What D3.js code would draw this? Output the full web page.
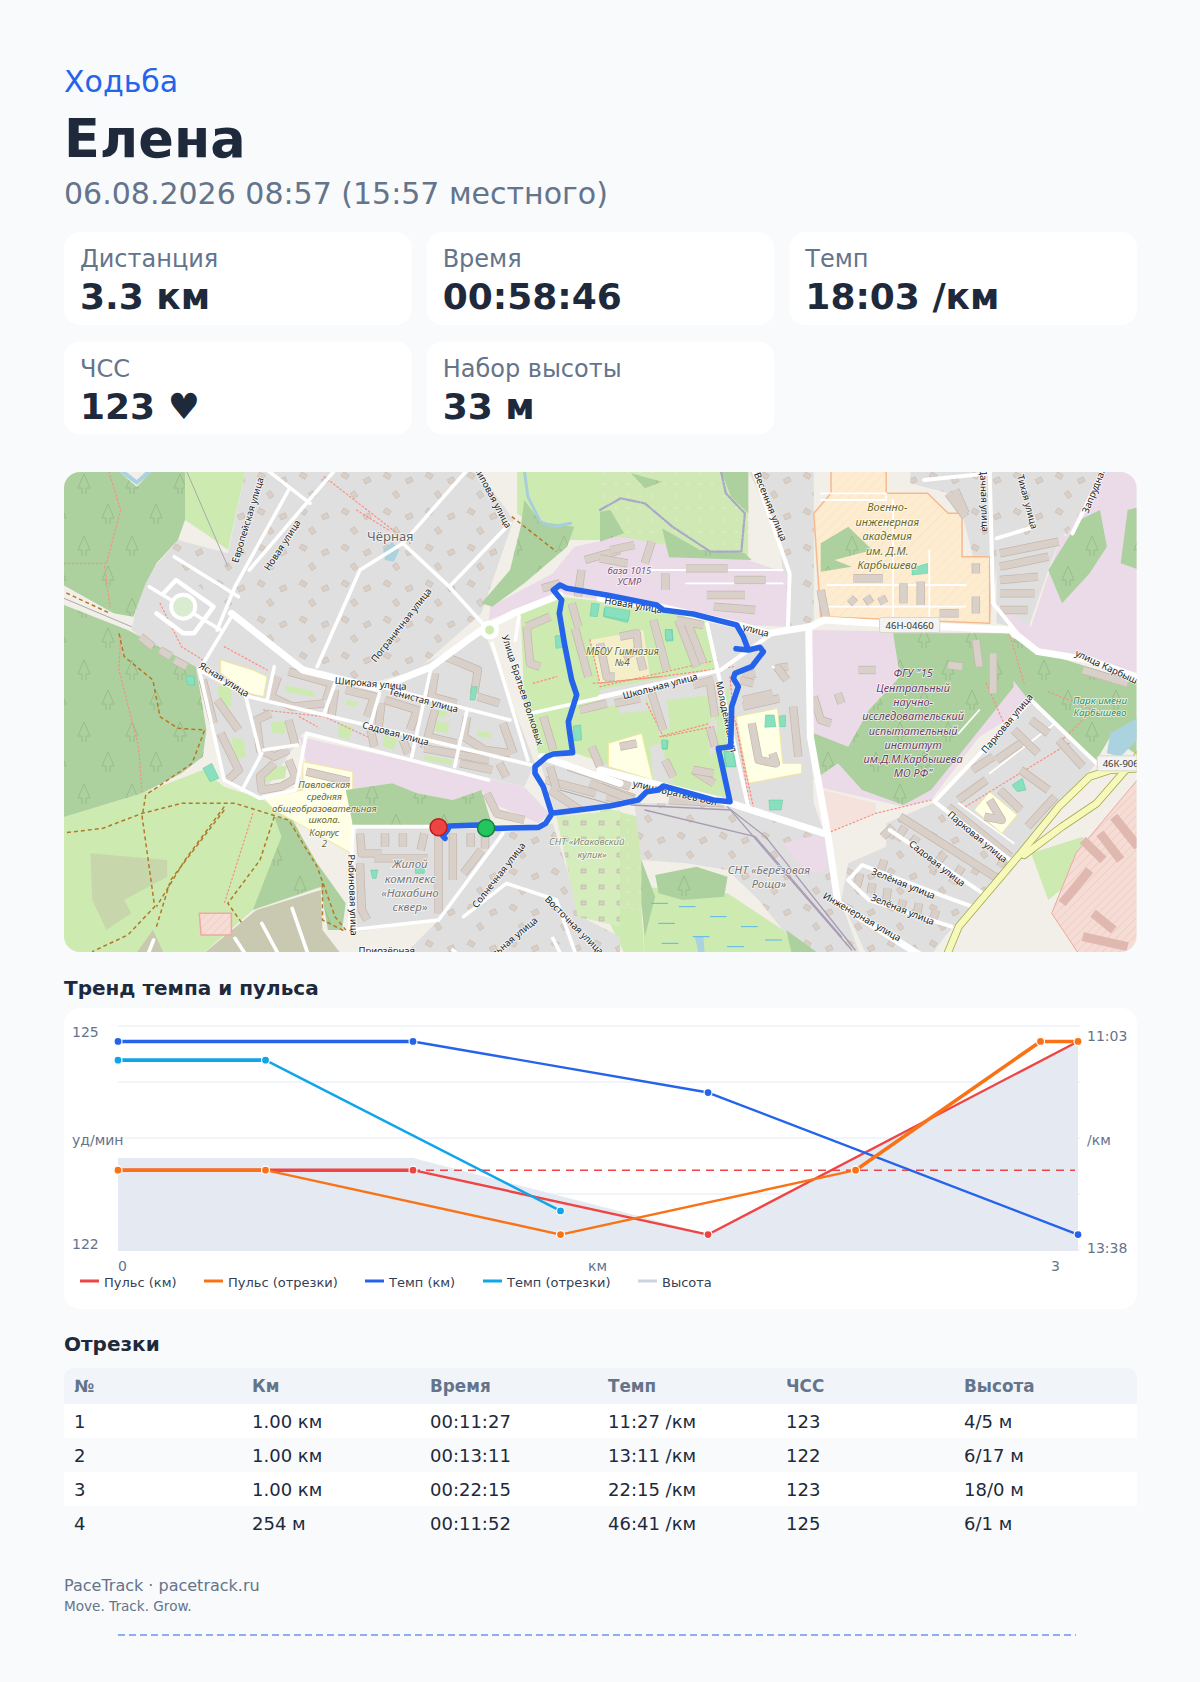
<!DOCTYPE html>
<html>
<head>
<meta charset="utf-8">
<title>Ходьба</title>
<script src="https://cdn.jsdelivr.net/npm/d3@7"></script>
<style>
  html, body { margin: 0; background: #f8fafc; }
  text { font-family: "DejaVu Sans", sans-serif; }
</style>
</head>
<body>
<div id="chart"></div>
<script>
const pageWidth = 1200, pageHeight = 1682;
const dark = "#1e293b", muted = "#64748b", blue = "#2563eb";

// summary
const statLabels = ["Дистанция", "Время", "Темп", "ЧСС", "Набор высоты"];
const statValues = ["3.3 км", "00:58:46", "18:03 /км", "123 ♥", "33 м"];

// trend chart
const kmMarks = [0, 1, 2, 3.254];
const hrByKm = [123, 123, 122, 125];
const paceByKm = [663, 663, 704, 818];
const splitMarks = [0, 0.5, 1.5, 2.5, 3.127, 3.254];
const hrBySplit = [123, 123, 122, 123, 125, 125];
const paceSplitMarks = [0, 0.5, 1.5];
const paceBySplit = [678, 678, 799];
const elevMarks = [0, 1, 2, 3.254];
const elevation = [167.6, 167.6, 160, 179.1];
const hrAverage = 123;
const legendNames = ["Пульс (км)", "Пульс (отрезки)", "Темп (км)", "Темп (отрезки)", "Высота"];
const legendColors = ["#ef4444", "#f97316", "#2563eb", "#0ea5e9", "#cbd5e1"];

// splits table
const tableHead = ["№", "Км", "Время", "Темп", "ЧСС", "Высота"];
const tableRows = [
  ["1", "1.00 км", "00:11:27", "11:27 /км", "123", "4/5 м"],
  ["2", "1.00 км", "00:13:11", "13:11 /км", "122", "6/17 м"],
  ["3", "1.00 км", "00:22:15", "22:15 /км", "123", "18/0 м"],
  ["4", "254 м", "00:11:52", "46:41 /км", "125", "6/1 м"]
];

// map, in three sheets: west, east, and the detailed middle one around the route
const westForest = [
  [[0,0],[160,0],[215,50],[260,0],[350,0],[350,150],[330,210],[270,280],[240,340],[205,440],[150,430],[0,340]],
  [[0,400],[190,480],[380,590],[395,680],[410,780],[400,860],[340,910],[230,970],[0,1045]],
  [[600,1040],[650,1050],[720,1180],[800,1300],[790,1380],[750,1380],[730,1250],[540,1320],[620,1100]],
  [[800,960],[930,940],[1000,970],[1100,990],[1180,960],[1210,1065],[820,1065]],
  [[1300,90],[1345,155],[1440,170],[1420,230],[1300,340],[1210,410],[1180,400],[1260,300],[1290,170]]
];
const westGrass = [
  [[0,1045],[230,970],[400,900],[460,950],[560,985],[650,1040],[720,1200],[735,1250],[540,1320],[380,1470],[0,1470]],
  [[1280,0],[1568,0],[1568,210],[1430,210],[1400,240],[1280,130]],
  [[350,0],[520,0],[470,240],[420,200],[350,150]],
  [[1290,430],[1400,380],[1568,400],[1568,850],[1340,850],[1300,700]]
];
const westScrub = [[[85,1150],[300,1170],[300,1220],[180,1290],[200,1330],[130,1380],[90,1290]]];
const westHouses = [
  [[520,0],[1170,0],[1270,150],[1180,430],[1000,600],[870,640],[700,600],[480,430],[350,340],[290,260],[330,210],[470,250]],
  [[1240,1090],[1380,1060],[1460,1340],[1568,1400],[1568,1470],[950,1470],[1060,1350]]
];
const westBlocks = [
  [[230,330],[290,260],[480,430],[700,600],[890,650],[1040,570],[1190,490],[1330,880],[1300,950],[680,790],[560,985],[460,930],[390,640],[200,480]],
  [[830,1070],[1230,1070],[1240,1090],[1060,1350],[830,1385]],
  [[1340,860],[1568,930],[1568,1010],[1390,1040]]
];
const westPurple = [
  [[670,800],[1300,950],[1370,1030],[1340,1060],[1210,1000],[1180,960],[1100,990],[1000,970],[930,940],[800,960],[690,880]],
  [[1440,230],[1568,200],[1568,400],[1400,370],[1200,450],[1205,410],[1380,310]]
];
const westSchool = [
  [[680,875],[820,905],[820,1060],[815,1150],[600,1020],[570,985],[680,960]],
  [[450,570],[540,600],[580,620],[570,680],[530,670],[450,610]]
];
const westKhaki = [
  [[380,1470],[550,1320],[730,1260],[735,1380],[800,1470]],
  [[200,1470],[260,1380],[300,1470]]
];
const westAllot = [[[1390,1040],[1568,1020],[1568,1370],[1450,1340]]];
const westPink = [[[390,1330],[480,1330],[480,1395],[395,1395]]];
const westPitch = [
  [[400,895],[425,880],[445,925],[420,935]],
  [[352,618],[375,618],[378,645],[358,645]],
  [[1152,650],[1168,650],[1162,690],[1148,690]],
  [[870,1200],[890,1200],[885,1225],[875,1225]],
  [[995,1195],[1020,1195],[1020,1210],[995,1210]]
];
const westYards = [
  [[440,650],[480,640],[480,710],[450,710]], [[630,645],[715,665],[710,680],[630,665]], [[800,690],[835,695],[830,710],[800,705]],
  [[480,800],[515,810],[520,860],[490,870]], [[590,755],[630,755],[630,790],[595,790]], [[780,760],[820,770],[810,810],[780,800]],
  [[905,795],[945,805],[935,840],[905,830]], [[1050,720],[1085,725],[1080,740],[1050,740]], [[1040,750],[1090,760],[1085,790],[1040,780]],
  [[1170,780],[1210,790],[1205,805],[1170,800]], [[570,900],[635,885],[630,925],[570,935]], [[1020,855],[1100,870],[1095,885],[1020,870]]
];
const westBuildings = [
  [[400,630],[430,760]], [[450,790],[500,900],[470,930]], [[440,690],[500,780]], [[590,730],[550,750],[560,840],[600,860],[640,840]],
  [[640,750],[660,830]], [[600,880],[560,920],[565,960],[620,950],[660,925],[640,870]],
  [[610,620],[590,680],[650,710],[740,700]], [[640,605],[760,640],[745,690]], [[770,660],[760,740]], [[800,660],[880,680],[860,740]],
  [[900,700],[890,790]], [[910,690],[1000,720],[980,780]], [[1050,610],[1040,680],[1110,700]], [[1080,560],[1170,600],[1160,670]],
  [[1170,680],[1230,700]], [[1050,720],[1030,800],[1110,820]], [[1140,740],[1130,800],[1190,840],[1260,850]], [[1240,760],[1270,850]],
  [[1020,835],[1200,870]], [[1120,880],[1210,900]], [[1230,880],[1250,920]], [[870,780],[880,830]], [[960,810],[975,850]],
  [[690,905],[810,935]], [[840,1090],[845,1150],[900,1150]], [[840,1180],[845,1320],[860,1350]], [[910,1090],[910,1130]],
  [[960,1090],[960,1130]], [[1020,1090],[1010,1140]], [[880,1165],[1030,1165]], [[1060,1090],[1060,1330]], [[1100,1090],[1100,1230]],
  [[1150,1090],[1150,1130]], [[1190,1090],[1190,1135]], [[1180,1140],[1130,1210]], [[1195,970],[1225,1035]], [[1220,1030],[1300,1050]],
  [[1360,930],[1500,970]], [[1530,980],[1568,990]], [[1470,270],[1568,240]], [[1460,300],[1450,380]], [[1350,355],[1400,340]],
  [[225,500],[260,530]], [[280,540],[310,560]], [[320,570],[355,590]]
];
const westRoads = [
  [[1400,375],[1270,430],[1180,480],[1040,590],[890,655],[680,600],[480,430]],
  [[1350,860],[1568,940]],
  [[530,680],[1320,885]], [[900,650],[1260,750]], [[480,440],[390,600],[460,930],[560,985],[660,960],[690,790],[1200,930]],
  [[390,600],[530,680]], [[1200,480],[1090,350],[960,220],[840,300],[720,590]], [[1090,350],[1260,160]],
  [[960,220],[1140,0]], [[640,60],[490,350],[440,480]], [[580,0],[700,100]], [[770,0],[530,300]], [[320,260],[500,380]],
  [[1210,520],[1310,870]], [[1285,440],[1275,510]], [[1320,730],[1568,670]], [[820,1070],[1230,1070]],
  [[820,1070],[810,1380],[1060,1350],[1240,1090]], [[1130,1340],[1250,1240],[1390,1290],[1450,1470]], [[250,350],[450,480]],
  [[600,590],[580,690]], [[770,640],[740,730]], [[895,670],[870,760]], [[1040,590],[985,860]], [[1140,720],[1105,890]],
  [[520,680],[560,850]], [[565,850],[510,960]], [[570,840],[665,825]], [[1100,1440],[1130,1470]], [[650,1315],[700,1470]],
  [[565,1360],[620,1470]], [[490,1405],[530,1470]], [[262,1410],[240,1470]], [[1380,1405],[1410,1470]]
];
const westRing = [[[290,370],[325,330],[430,410],[375,490],[345,490],[270,430]]];
const westTrack = [
  [[0,1090],[120,1075],[230,1030],[340,1000],[490,1000],[640,1050],[720,1190],[770,1340],[800,1380]],
  [[165,490],[180,560],[260,630],[280,740],[330,775],[405,780],[370,880],[240,975],[230,1040],[265,1310],[190,1395],[90,1445]],
  [[460,1010],[350,1170],[270,1310]], [[460,1020],[310,1230],[270,1370]], [[600,1040],[560,1170],[470,1300],[510,1360]],
  [[735,1240],[735,1350],[800,1385]], [[1265,140],[1390,245]], [[0,360],[140,430]]
];
const westFootway = [
  [[0,280],[130,280],[170,120],[135,0]], [[125,290],[140,410]], [[170,500],[165,600],[220,830],[230,970]],
  [[280,400],[340,530],[400,570]], [[460,530],[580,600]], [[740,20],[980,220]], [[570,720],[740,740],[860,800]],
  [[540,1030],[460,1300]], [[670,740],[720,770]], [[1010,830],[1200,880]], [[830,120],[920,180]]
];
const westRail = [[[0,380],[200,470]], [[1400,960],[1568,1010]], [[355,5],[470,290]]];
const westWater = [[[905,240],[930,215],[950,240],[935,275],[910,270]], [[165,5],[215,45],[260,5],[240,5],[215,30],[185,5]]];
const westRiver = [[1300,0],[1310,80],[1345,155],[1380,170],[1430,160]];

const eastForest = [
  [[0,125],[30,120],[70,190],[0,215]],
  [[180,175],[290,240],[420,250],[440,270],[200,262]],
  [[350,0],[430,0],[430,130],[380,80]],
  [[90,10],[180,35],[130,55]],
  [[850,490],[1190,490],[1200,650],[1100,780],[960,960],[880,1005],[760,960],[690,880],[620,930],[620,790],[720,830],[780,720],[870,620]],
  [[1190,500],[1290,550],[1566,640],[1566,860],[1480,800],[1440,870],[1250,700],[1190,620]],
  [[640,220],[720,170],[790,240],[680,270],[730,290],[640,305]],
  [[160,1215],[280,1190],[370,1220],[360,1280],[240,1290],[170,1270]],
  [[120,1170],[160,1280],[130,1400],[120,1300]], [[540,1380],[660,1470],[560,1470]],
  [[1390,150],[1450,120],[1470,230],[1420,310],[1340,400],[1300,300]], [[1530,120],[1566,110],[1566,300],[1510,280]]
];
const eastGarden = [[[0,0],[430,0],[430,260],[200,262],[0,215]], [[0,1010],[110,1040],[130,1250],[120,1320],[0,1300]]];
const eastGrass = [
  [[120,1250],[370,1270],[560,1400],[600,1470],[130,1470]],
  [[1250,1150],[1400,1100],[1430,1180],[1300,1290]],
  [[0,1300],[120,1320],[130,1470],[80,1470]]
];
const eastHouses = [
  [[430,0],[620,0],[620,460],[545,470],[520,200]],
  [[900,0],[1450,0],[1370,190],[1160,220],[1130,460],[1050,130],[1010,70],[900,40]],
  [[100,1000],[380,1000],[650,1090],[700,1300],[760,1470],[600,1470],[460,1290],[370,1200],[250,1180],[120,1170]],
  [[830,1060],[965,1000],[1190,1170],[1000,1400],[950,1470],[780,1470],[700,1290],[720,1180],[830,1130]]
];
const eastBlocks = [
  [[1250,700],[1440,880],[1190,1170],[965,1000]],
  [[1150,220],[1340,190],[1300,300],[1240,480],[1150,460]],
  [[0,400],[170,415],[400,470],[500,490],[600,480],[620,1000],[650,1090],[380,1000],[0,900]]
];
const eastPurple = [
  [[0,200],[60,200],[430,270],[540,310],[545,470],[400,465],[0,370]],
  [[615,480],[1190,490],[1200,600],[1260,700],[1100,800],[960,990],[880,1010],[630,950],[615,800]],
  [[1350,200],[1460,5],[1566,5],[1566,610],[1280,545],[1200,480],[1150,400],[1250,470],[1340,190]],
  [[530,1120],[650,1090],[660,1200],[600,1210]]
];
const eastMilitary = [[[620,130],[670,70],[670,0],[830,0],[830,70],[950,70],[1010,130],[1050,130],[1050,260],[1130,260],[1130,460],[640,440]]];
const eastSchool = [
  [[395,740],[515,715],[530,880],[585,880],[585,910],[430,940]],
  [[20,870],[130,795],[150,930],[20,880]],
  [[1085,1020],[1130,965],[1210,1035],[1165,1090]]
];
const eastIndustrial = [[[1566,920],[1380,1150],[1310,1330],[1400,1470],[1566,1470]]];
const eastLand = [[[630,955],[800,1000],[800,1030],[665,1085]]];
const eastPitch = [
  [[12,415],[85,430],[80,458],[10,440]], [[190,480],[210,478],[212,512],[192,514]], [[905,295],[950,280],[950,310],[905,315]],
  [[480,735],[505,735],[510,770],[478,772]], [[520,738],[538,736],[538,770],[522,770]], [[360,845],[392,845],[392,890],[362,890]],
  [[490,990],[530,990],[525,1020],[492,1020]], [[1195,945],[1225,925],[1235,960],[1210,965]], [[180,812],[198,812],[195,838],[182,838]]
];
const eastBuildings = [
  [[30,240],[100,225]], [[150,215],[130,280]], [[0,265],[80,280]], [[190,310],[190,360]], [[250,295],[370,295]], [[310,375],[420,375]],
  [[390,330],[480,330]], [[450,420],[330,410]], [[640,360],[655,440]], [[725,385],[740,400]], [[772,380],[785,400]],
  [[815,380],[825,400]], [[880,340],[880,400]], [[930,335],[930,405]], [[985,430],[1040,430]], [[1090,280],[1090,310]],
  [[1090,380],[1090,430]], [[735,325],[820,325]],
  [[440,760],[460,870],[510,880],[500,850]], [[270,900],[330,940]],
  [[415,620],[450,610]], [[510,595],[545,590]], [[415,690],[500,670]], [[415,710],[520,685]],
  [[560,710],[575,860]], [[0,950],[100,985]], [[200,990],[360,1000]], [[620,680],[640,750],[670,760]],
  [[690,670],[700,700]], [[750,600],[800,600]], [[1010,585],[1050,590]], [[1090,510],[1100,590]], [[1400,600],[1530,640]],
  [[1250,750],[1300,790]], [[1200,780],[1270,850]], [[1150,870],[1220,820]], [[1080,900],[1140,860]], [[1040,990],[1120,930]],
  [[1220,900],[1300,960]], [[1160,960],[1220,1020]], [[1330,810],[1400,890]], [[1240,1070],[1320,980]],
  [[1010,1010],[1190,1160]], [[870,1040],[1160,1230]], [[820,1100],[850,1070]], [[885,1070],[860,1110]], [[920,1100],[900,1130]],
  [[1000,1150],[960,1200]], [[1050,1190],[1020,1240]], [[825,1170],[815,1200]], [[755,1210],[745,1250]], [[790,1240],[785,1270]],
  [[835,1255],[830,1290]], [[880,1290],[870,1320]], [[925,1300],[920,1330]], [[975,1320],[965,1350]],
  [[1115,1040],[1165,1050],[1130,990]], [[1170,1170],[1160,1190]], [[1140,550],[1140,670]], [[1160,250],[1330,215]], [[1160,290],[1300,260]],
  [[1160,330],[1270,320]], [[1160,370],[1260,370]], [[1160,420],[1240,420]], [[1010,70],[1060,140]], [[1030,60],[1060,130]]
];
const eastIndustrialBuildings = [
  [[1400,1110],[1460,1170]], [[1450,1090],[1510,1170]], [[1490,1040],[1560,1130]], [[1340,1300],[1420,1200]], [[1430,1330],[1490,1380]], [[1400,1400],[1530,1430]]
];
const eastRoads = [
  [[0,385],[170,410],[400,465],[490,490],[610,470],[650,450],[800,460],[1190,480],[1270,545],[1420,570],[1566,625]],
  [[0,900],[380,1000],[650,1090]],
  [[605,470],[610,800],[660,1090],[690,1300],[950,1470]],
  [[0,680],[350,600],[500,490]], [[310,460],[430,1010]], [[445,0],[550,310],[545,470]], [[1130,0],[1140,400],[1210,490]],
  [[940,30],[1130,10]], [[1150,205],[1260,170]], [[1460,0],[1370,190]], [[1250,690],[970,995],[1190,1170]], [[1250,690],[1440,880]],
  [[840,1080],[1110,1270]], [[720,1230],[760,1185],[1000,1280],[1080,1310]], [[720,1230],[780,1290],[1020,1370]]
];
const eastServiceRoads = [
  [[640,70],[830,70],[830,90],[640,90]], [[660,345],[1060,345]], [[660,410],[1060,410]], [[850,90],[850,440]], [[955,240],[955,440]],
  [[150,300],[530,300]], [[250,340],[530,340]], [[500,590],[545,620]], [[1040,1000],[1200,1120]], [[1130,910],[1320,760]], [[1040,790],[1100,720]]
];
const eastTrunk = [[1000,1470],[1040,1370],[1220,1150],[1330,1010],[1420,920],[1480,900],[1566,895]];
const eastTrunk2 = [[1230,1155],[1340,1070],[1440,1000],[1566,850]];
const eastFootway = [
  [[670,1085],[800,1030],[960,990]], [[1190,500],[1230,640]], [[1300,665],[1430,720],[1330,820]], [[1060,1010],[1360,820]],
  [[395,760],[435,1010]], [[0,650],[340,570]], [[1120,640],[1180,780]]
];
const eastRail = [[[90,1005],[380,1020],[480,1100],[740,1440]], [[130,1020],[450,1100],[700,1400]], [[370,1010],[730,1440]]];
const eastRiver = [[0,120],[60,85],[130,100],[210,170],[320,245],[410,245],[420,130],[365,70],[350,0]];
const eastWater = [[[1566,740],[1480,790],[1470,850],[1510,860],[1566,800]], [[275,1400],[300,1400],[305,1470],[290,1470]]];
const eastWetlandDashes = [[150,1300],[230,1310],[320,1340],[410,1370],[480,1410],[170,1360],[270,1400],[370,1430],[180,1420],[300,1450]];

const midSchoolYard = [[[270,210],[430,180],[450,320],[300,340]]];
const midGreens = [
  [[190,90],[480,125],[620,145],[655,295],[240,370],[215,300]],
  [[75,120],[170,100],[190,230],[225,370],[100,390],[80,290]],
  [[230,430],[440,385],[480,480],[640,450],[690,340],[685,500],[680,680],[480,640],[215,545]],
  [[130,430],[205,410],[205,540],[160,545],[135,500]]
];
const midGrey = [
  [[345,385],[430,380],[450,420],[360,430]], [[450,380],[480,500],[500,470],[490,370]], [[560,335],[650,320],[640,380],[600,375],[500,395],[490,365]],
  [[450,530],[480,520],[520,640],[460,630]], [[620,460],[650,450],[650,540],[630,560]], [[700,300],[860,270],[870,400],[700,420]]
];
const midYard = [[[500,390],[630,375],[635,455],[510,475]]];
const midPitch = [[[275,100],[298,102],[292,140],[270,138]], [[315,110],[390,122],[385,152],[312,138]], [[495,178],[515,180],[518,210],[497,210]], [[165,198],[190,195],[192,232],[168,235]], [[220,468],[242,465],[245,510],[222,512]], [[485,510],[500,510],[502,535],[486,535]], [[672,545],[698,545],[708,590],[680,590]]];
const midBuildings = [
  [[215,100],[235,170]], [[225,175],[265,320]], [[300,220],[320,320],[345,320]], [[360,200],[410,190],[415,240],[370,260]], [[420,260],[430,300]],
  [[80,170],[90,280],[120,290]], [[80,170],[150,140]], [[460,150],[500,300]], [[535,150],[590,290]], [[560,150],[610,280]], [[530,150],[610,165]],
  [[455,370],[490,480]], [[345,400],[420,385]], [[580,345],[640,330]], [[630,340],[645,440]], [[630,475],[645,530]],
  [[240,420],[320,400]], [[130,440],[160,540]], [[275,530],[300,590]], [[495,570],[520,620]], [[580,600],[640,610]], [[360,530],[410,520]],
  [[205,590],[390,650]], [[150,590],[170,660]], [[270,640],[400,690]], [[150,660],[240,720]], [[830,290],[860,330]], [[720,330],[760,340]]
];
const midYellow = [[[325,520],[425,490],[458,630],[325,590]]];
const midFootway = [[[280,340],[480,320],[700,290]], [[270,210],[300,340],[480,320]], [[440,400],[490,500],[640,470]], [[100,340],[170,320]], [[480,500],[630,460]], [[690,320],[700,430],[760,710]]];

// route drawn through the map sheets
const routeStartLeg = [[1078,1105],[1072,1098],[1085,1080],[1090,1068],[1170,1065],[1220,1075],[1340,1072],[1360,1060],[1378,1030]];
const routeLoop = [[155,730],[130,650],[105,610],[105,590],[140,560],[160,552],[218,548],[208,480],[205,455],[230,375],[215,330],[195,230],[178,130],[185,90],[160,60],[180,45],[200,55],[320,75],[470,105],[490,120],[580,132],[650,150],[710,165],[730,200],[745,240],[708,236],[745,240],[780,232],[790,245],[755,290],[705,310],[700,325],[715,350],[695,410],[692,530],[655,535],[690,695],[640,690],[490,648],[475,660],[440,665],[415,690],[330,708],[155,730]];
const routeFinish = [1060, 1072];
const routeStart = [1193, 1074];

// map labels: text, x, y, rotation
const westStreets = [
  ["Европейская улица",525,150,-73],["Новая улица",622,225,-57],["Липовая улица",1212,80,62],["Пограничная улица",955,465,-52],
  ["Широкая улица",870,640,5],["Ясная улица",460,628,32],["Тенистая улица",1018,690,15],["Садовая улица",940,790,15],
  ["Улица Братьев Волковых",1296,660,72],["Рыбиновая улица",820,1275,88],["Солнечная улица",1228,1215,-52],["Восточная улица",1440,1365,45],
  ["Приозёрная",915,1442,0],["Школьная улица",1250,1420,-40]
];
const westSchoolName = [["Павловская",740,943],["средняя",740,978],["общеобразовательная",740,1014],["школа.",740,1049],["Корпус",740,1086],["2",740,1120]];
const westEstate = [["Жилой",980,1180],["комплекс",980,1224],["«Нахабино",980,1266],["сквер»",980,1310]];
const westGarden = [["СНТ «Исаковский",1475,1115],["кулик»",1490,1152]];
const eastStreets = [
  ["Весенняя улица",495,110,68],["Дачная улица",1115,90,88],["Тихая улица",1240,95,75],["Запрудная",1432,60,-68],
  ["улица",452,480,15],["улица Карбышева",1490,600,25],["Парковая улица",1180,760,-50],["Парковая улица",1095,1100,40],
  ["Садовая улица",978,1180,38],["Зелёная улица",880,1240,22],["Зелёная улица",878,1318,22],["Инженерная улица",760,1340,30]
];
const eastAcademy = [["Военно-",833,110],["инженерная",833,155],["академия",833,197],["им. Д.М.",833,240],["Карбышева",833,283]];
const eastInstitute = [["ФГУ \"15",908,607],["Центральный",908,652],["научно-",908,695],["исследовательский",908,737],["испытательный",908,780],["институт",908,823],["им.Д.М.Карбышева",908,866],["МО РФ\"",908,908]];
const eastBase = [["база 1015",85,300],["УСМР",85,335]];
const eastPark = [["Парк имени",1450,692],["Карбышево",1450,727]];
const eastGardenName = [["СНТ «Берёзовая",490,1197],["Роща»",490,1240]];
const midStreets = [["Новая улица",400,105,10],["Школьная улица",480,348,-15],["Молодёжная ул",680,440,78],["улица Братьев Вол",525,668,13]];
const midSchoolName = [["МБОУ Гимназия",367,242],["№4",367,277]];
const roadShields = [["46Н-04660",898,465],["46К-906",1510,880]];

const svg = d3.select("#chart").append("svg")
  .attr("width", pageWidth)
  .attr("height", pageHeight)
  .style("display", "block");

svg.append("rect").attr("width", pageWidth).attr("height", pageHeight).attr("fill", "#f8fafc");

const defs = svg.append("defs");

function addText(sel, str, x, y, size, color, weight) {
  return sel.append("text")
    .attr("x", x).attr("y", y)
    .attr("font-size", size)
    .attr("fill", color)
    .attr("font-weight", weight || "normal")
    .text(str);
}

// header
addText(svg, "Ходьба", 64, 92, 30, blue);
addText(svg, "Елена", 64, 157, 52.5, dark, "bold");
addText(svg, "06.08.2026 08:57 (15:57 местного)", 64, 204, 30, muted);

// stat cards
const cardX = d3.scaleBand().domain([0, 1, 2]).range([64, 1137]).paddingInner(15 / 362.67);
statLabels.forEach((label, i) => {
  const col = i % 3, row = Math.floor(i / 3);
  const top = 232 + row * 109.5;
  svg.append("rect")
    .attr("x", cardX(col)).attr("y", top)
    .attr("width", cardX.bandwidth()).attr("height", 93)
    .attr("rx", 16).attr("fill", "#fff");
  addText(svg, label, cardX(col) + 16, top + 35, 24, muted);
  addText(svg, statValues[i], cardX(col) + 16, top + 77, 36, dark, "bold");
});

// map
defs.append("clipPath").attr("id", "mapClip")
  .append("rect").attr("x", 64).attr("y", 472).attr("width", 1072.5).attr("height", 480).attr("rx", 16);

const housePattern = defs.append("pattern").attr("id", "houses").attr("patternUnits", "userSpaceOnUse").attr("width", 42).attr("height", 36);
housePattern.append("rect").attr("width", 42).attr("height", 36).attr("fill", "#e0dfdf");
[[6, 5, 30], [28, 10, -25], [15, 24, 55]].forEach(h => {
  housePattern.append("rect").attr("x", h[0]).attr("y", h[1]).attr("width", 6.5).attr("height", 5)
    .attr("fill", "#d9cfc6").attr("stroke", "#c4b6ab").attr("stroke-width", 0.5)
    .attr("transform", `rotate(${h[2]} ${h[0] + 3} ${h[1] + 2.5})`);
});
const treePattern = defs.append("pattern").attr("id", "trees").attr("patternUnits", "userSpaceOnUse").attr("width", 48).attr("height", 62);
treePattern.append("path").attr("d", "M12 8 L18 22 L14 22 L14 28 M12 8 L6 22 L10 22 L10 28 M36 40 L42 54 L38 54 L38 60 M36 40 L30 54 L34 54 L34 60")
  .attr("fill", "none").attr("stroke", "#8fb57f").attr("stroke-width", 0.7);
const hatchPattern = defs.append("pattern").attr("id", "hatch").attr("patternUnits", "userSpaceOnUse").attr("width", 7).attr("height", 7).attr("patternTransform", "rotate(-45)");
hatchPattern.append("rect").attr("width", 7).attr("height", 7).attr("fill", "#feecd0");
hatchPattern.append("line").attr("x1", 0).attr("x2", 7).attr("y1", 0).attr("y2", 0).attr("stroke", "#f5d3ac").attr("stroke-width", 0.6);
const redHatch = defs.append("pattern").attr("id", "redHatch").attr("patternUnits", "userSpaceOnUse").attr("width", 6).attr("height", 6).attr("patternTransform", "rotate(-45)");
redHatch.append("rect").attr("width", 6).attr("height", 6).attr("fill", "#f5dcd5");
redHatch.append("line").attr("x1", 0).attr("x2", 6).attr("y1", 0).attr("y2", 0).attr("stroke", "#e8b6ab").attr("stroke-width", 0.7);
const gardenPattern = defs.append("pattern").attr("id", "garden").attr("patternUnits", "userSpaceOnUse").attr("width", 18).attr("height", 16);
gardenPattern.append("rect").attr("width", 18).attr("height", 16).attr("fill", "#d5edbd");
gardenPattern.append("rect").attr("x", 5).attr("y", 5).attr("width", 5).attr("height", 4).attr("fill", "#d9cfc6").attr("stroke", "#b9a99c").attr("stroke-width", 0.5);
const dotPattern = defs.append("pattern").attr("id", "dots").attr("patternUnits", "userSpaceOnUse").attr("width", 12).attr("height", 12);
dotPattern.append("rect").attr("width", 12).attr("height", 12).attr("fill", "#cfe8b4");
dotPattern.append("circle").attr("cx", 4).attr("cy", 4).attr("r", 0.7).attr("fill", "#f0f7e4");

const westX = d3.scaleLinear().domain([0, 1568]).range([60, 620]);
const eastX = d3.scaleLinear().domain([0, 1566]).range([600, 1140]);
const midX = d3.scaleLinear().domain([0, 870]).range([500, 790]);
const sheetY = d3.scaleLinear().domain([0, 1470]).range([470, 960]);
const midY = d3.scaleLinear().domain([0, 810]).range([570, 840]);

const westPath = d3.line().x(d => westX(d[0])).y(d => sheetY(d[1]));
const eastPath = d3.line().x(d => eastX(d[0])).y(d => sheetY(d[1]));
const midPath = d3.line().x(d => midX(d[0])).y(d => midY(d[1]));

const mapLayer = svg.append("g").attr("clip-path", "url(#mapClip)");
mapLayer.append("rect").attr("x", 64).attr("y", 472).attr("width", 1073).attr("height", 480).attr("fill", "#f2efe9");

function fillShapes(shapes, pathGen, color, stroke, strokeWidth) {
  shapes.forEach(s => {
    mapLayer.append("path")
      .attr("d", pathGen(s) + "Z")
      .attr("fill", color)
      .attr("stroke", stroke || "none")
      .attr("stroke-width", strokeWidth || 0);
  });
}
function strokeShapes(shapes, pathGen, color, width, dash, cap) {
  shapes.forEach(s => {
    mapLayer.append("path")
      .attr("d", pathGen(s))
      .attr("fill", "none")
      .attr("stroke", color)
      .attr("stroke-width", width)
      .attr("stroke-dasharray", dash || null)
      .attr("stroke-linecap", cap || "round")
      .attr("stroke-linejoin", "round");
  });
}
function blockShapes(shapes, pathGen) {
  strokeShapes(shapes, pathGen, "#c4b6ab", 8.4, null, "butt");
  strokeShapes(shapes, pathGen, "#d9d0c9", 7, null, "butt");
}

// land use
fillShapes(westGrass, westPath, "#cdebb0");
fillShapes(eastGarden, eastPath, "url(#dots)");
fillShapes(eastGrass, eastPath, "#cdebb0");
fillShapes(westHouses, westPath, "url(#houses)");
fillShapes(eastHouses, eastPath, "url(#houses)");
fillShapes(westBlocks, westPath, "#e0dfdf");
fillShapes(eastBlocks, eastPath, "#e0dfdf");
fillShapes(westPurple, westPath, "#ebdbe8");
fillShapes(eastPurple, eastPath, "#ebdbe8");
fillShapes(westKhaki, westPath, "#c9c9b2");
fillShapes(westSchool, westPath, "#ffffe5", "#f0e6a0", 1);
fillShapes(eastSchool, eastPath, "#ffffe5", "#f0e6a0", 1);
fillShapes(westYards, westPath, "#cdebb0");
fillShapes(westAllot, westPath, "url(#garden)");
fillShapes(eastIndustrial, eastPath, "url(#redHatch)", "#e9a9a0", 1);
fillShapes(eastLand, eastPath, "#f5e2dc");
fillShapes(eastMilitary, eastPath, "url(#hatch)", "#f6b98e", 1.5);
fillShapes(westForest, westPath, "#add19e");
fillShapes(westForest, westPath, "url(#trees)");
fillShapes(eastForest, eastPath, "#add19e");
fillShapes(eastForest, eastPath, "url(#trees)");
fillShapes(westScrub, westPath, "#c8d7ab");
fillShapes(westPink, westPath, "url(#redHatch)", "#f0a8a0", 1.5);
fillShapes(midGreens, midPath, "#cdebb0");
fillShapes(midGrey, midPath, "#e0dfdf");
fillShapes(midYard, midPath, "#cdebb0");
fillShapes(midYellow, midPath, "#ffffe5", "#efe79c", 1);
fillShapes(midSchoolYard, midPath, "#f4efc8");
fillShapes(westWater, westPath, "#aad3df");
fillShapes(eastWater, eastPath, "#aad3df");

// stream
strokeShapes([westRiver], westPath, "#a8cedd", 3);
strokeShapes([eastRiver], eastPath, "#a8a8c8", 2.2, "9 2 2 2");

// wetland dashes
eastWetlandDashes.forEach(d => {
  strokeShapes([[d, [d[0] + 46, d[1]]]], eastPath, "#4db1ea", 0.9);
});

// paths and rails below the streets
strokeShapes(westFootway, westPath, "#fa8e82", 1.2, "1.5 2.5");
strokeShapes(eastFootway, eastPath, "#fa8e82", 1.2, "1.5 2.5");
strokeShapes(midFootway, midPath, "#fa8e82", 1.3, "1.5 2.5");
strokeShapes(westTrack, westPath, "#b3782a", 1.5, "4 3", "butt");
strokeShapes(westRail, westPath, "#a9a9a9", 1);
strokeShapes(eastRail, eastPath, "#a79bb3", 1.3);
strokeShapes(eastServiceRoads, eastPath, "#fff", 1.8);

// buildings
blockShapes(westBuildings, westPath);
blockShapes(eastBuildings, eastPath);
blockShapes(midBuildings, midPath);
strokeShapes(eastIndustrialBuildings, eastPath, "#dfb8b0", 9, null, "butt");
fillShapes(westPitch, westPath, "#88e0be", "#5fc9a0", 0.5);
fillShapes(eastPitch, eastPath, "#88e0be", "#5fc9a0", 0.5);
fillShapes(midPitch, midPath, "#88e0be", "#5fc9a0", 0.5);

// streets
strokeShapes(westRoads, westPath, "#fff", 3.6);
strokeShapes(eastRoads, eastPath, "#fff", 4);
strokeShapes([westRoads[0], westRoads[1]], westPath, "#fff", 7);
strokeShapes([eastRoads[0], eastRoads[1], eastRoads[2]], eastPath, "#fff", 7);
strokeShapes(westRing, westPath, "#fff", 4.5);
mapLayer.append("circle").attr("cx", westX(345)).attr("cy", sheetY(410)).attr("r", 12).attr("fill", "#d9ecd0").attr("stroke", "#fff").attr("stroke-width", 4);
mapLayer.append("circle").attr("cx", westX(1203)).attr("cy", sheetY(480)).attr("r", 7).attr("fill", "#cdebb0").attr("stroke", "#fff").attr("stroke-width", 5);
strokeShapes([eastTrunk, eastTrunk2], eastPath, "#a4a84e", 8);
strokeShapes([eastTrunk, eastTrunk2], eastPath, "#f7f9bb", 6.4);

// map labels
function labelText(rows, xs, ys, size, color, style, halo) {
  rows.forEach(r => {
    const lx = xs(r[1]), ly = ys(r[2]);
    mapLayer.append("text")
      .attr("transform", `translate(${lx},${ly}) rotate(${r[3] || 0})`)
      .attr("text-anchor", "middle")
      .attr("dominant-baseline", "central")
      .style("font-family", "'Noto Sans', 'DejaVu Sans', sans-serif")
      .attr("font-size", size)
      .attr("font-style", style || "normal")
      .attr("fill", color)
      .attr("stroke", halo || "#ffffff")
      .attr("stroke-width", 1.6)
      .attr("stroke-opacity", 0.75)
      .attr("paint-order", "stroke")
      .text(r[0]);
  });
}
labelText(westStreets, westX, sheetY, 9.5, "#222");
labelText(eastStreets, eastX, sheetY, 9.5, "#222");
labelText(midStreets, midX, midY, 9.5, "#222");
labelText([["Чёрная", 925, 198]], westX, sheetY, 13, "#666");
labelText(westSchoolName, westX, sheetY, 9.6, "#6a6a24", "italic");
labelText(westEstate, westX, sheetY, 11.6, "#757575", "italic");
labelText(westGarden, westX, sheetY, 9.6, "#7b8a6a", "italic");
labelText(midSchoolName, midX, midY, 10, "#6a6a24", "italic");
labelText(eastAcademy, eastX, sheetY, 11, "#6a6a24", "italic");
labelText(eastInstitute, eastX, sheetY, 11, "#6c3a6c", "italic");
labelText(eastBase, eastX, sheetY, 9.5, "#7a4a7a", "italic");
labelText(eastPark, eastX, sheetY, 9.8, "#2f8f4f", "italic");
labelText(eastGardenName, eastX, sheetY, 11.4, "#757575", "italic");
roadShields.forEach(r => {
  const w = r[0].length * 6.7;
  mapLayer.append("rect").attr("x", eastX(r[1]) - w / 2).attr("y", sheetY(r[2]) - 7.5).attr("width", w).attr("height", 15)
    .attr("rx", 2).attr("fill", "#f3f3f3").attr("stroke", "#d8d8c8");
});
labelText(roadShields, eastX, sheetY, 9.5, "#333", null, "none");

// route
const routePoints = routeStartLeg.map(d => [westX(d[0]), sheetY(d[1])])
  .concat(routeLoop.map(d => [midX(d[0]), midY(d[1])]));
mapLayer.append("path")
  .attr("d", d3.line()(routePoints))
  .attr("fill", "none")
  .attr("stroke", blue)
  .attr("stroke-width", 5.6)
  .attr("stroke-linejoin", "round")
  .attr("stroke-linecap", "round");
[[routeFinish, "#ef4444", "#b91c1c"], [routeStart, "#22c55e", "#15803d"]].forEach(m => {
  mapLayer.append("circle")
    .attr("cx", westX(m[0][0])).attr("cy", sheetY(m[0][1]))
    .attr("r", 8.5)
    .attr("fill", m[1])
    .attr("stroke", m[2])
    .attr("stroke-width", 1.5);
});

// trend
addText(svg, "Тренд темпа и пульса", 64, 995, 20, dark, "bold");
svg.append("rect").attr("x", 64).attr("y", 1008).attr("width", 1073).attr("height", 301).attr("rx", 16).attr("fill", "#fff");

const plotTop = 1026, plotBottom = 1250;
const x = d3.scaleLinear().domain([0, 3.254]).range([118, 1078]);
const yHr = d3.scaleLinear().domain([121.76, 125.24]).range([plotBottom, plotTop]);
// pace axis is reversed: the fastest pace sits at the top
const yPace = d3.scaleLinear().domain([650.6, 830.4]).range([plotTop, plotBottom]);
const yElev = d3.scaleLinear().domain([158.4, 180.8]).range([plotBottom, plotTop]);

// grid lines split the plot in four
d3.range(5).forEach(i => {
  const gy = d3.interpolateNumber(plotTop, plotBottom)(i / 4);
  svg.append("line").attr("x1", 118).attr("x2", 1079.5).attr("y1", gy).attr("y2", gy)
    .attr("stroke", "#e2e8f0").attr("stroke-width", 1);
});

const elevArea = d3.area().x(d => x(d[0])).y0(plotBottom + 1).y1(d => yElev(d[1]));
svg.append("path")
  .attr("d", elevArea(elevMarks.map((k, i) => [k, elevation[i]])))
  .attr("fill", "#e5e9f1");

svg.append("line")
  .attr("x1", x(0)).attr("x2", 1075)
  .attr("y1", yHr(hrAverage)).attr("y2", yHr(hrAverage))
  .attr("stroke", legendColors[0])
  .attr("stroke-width", 1.5)
  .attr("stroke-dasharray", "8 6");

// thin line with a heavier stroke on the listed pieces; markers carry a white ring
function drawSeries(marks, values, yScale, color, heavyPieces) {
  const pts = marks.map((k, i) => [x(k), yScale(values[i])]);
  const lineGen = d3.line();
  d3.pairs(pts).forEach((pair, i) => {
    svg.append("path")
      .attr("d", lineGen(pair))
      .attr("fill", "none")
      .attr("stroke", color)
      .attr("stroke-width", heavyPieces.includes(i) ? 3.6 : 2.4);
  });
  svg.selectAll(null).data(pts).enter().append("circle")
    .attr("cx", d => d[0]).attr("cy", d => d[1])
    .attr("r", 4)
    .attr("fill", color)
    .attr("stroke", "#fff")
    .attr("stroke-width", 1.2);
}
drawSeries(kmMarks, hrByKm, yHr, legendColors[0], [0]);
drawSeries(kmMarks, paceByKm, yPace, legendColors[2], [0]);
drawSeries(paceSplitMarks, paceBySplit, yPace, legendColors[3], [0]);
drawSeries(splitMarks, hrBySplit, yHr, legendColors[1], [0, 3, 4]);

addText(svg, "125", 72, 1037, 14, muted);
addText(svg, "уд/мин", 72, 1145, 14, muted);
addText(svg, "122", 72, 1249, 14, muted);
addText(svg, "11:03", 1087, 1041, 14, muted);
addText(svg, "/км", 1087, 1145, 14, muted);
addText(svg, "13:38", 1087, 1253, 14, muted);
addText(svg, "0", 118, 1271, 14, muted);
addText(svg, "км", 588, 1271, 14, muted);
addText(svg, "3", 1051, 1271, 14, muted);

// legend
const legendX = [80, 204, 365, 483, 638];
legendNames.forEach((name, i) => {
  svg.append("line")
    .attr("x1", legendX[i]).attr("x2", legendX[i] + 19)
    .attr("y1", 1281).attr("y2", 1281)
    .attr("stroke", legendColors[i])
    .attr("stroke-width", 3);
  addText(svg, name, legendX[i] + 24, 1287, 13, "#334155");
});

// splits
addText(svg, "Отрезки", 64, 1351, 20, dark, "bold");
const colX = d3.scaleBand().domain(d3.range(6)).range([64, 1132]);
svg.append("path")
  .attr("d", "M64 1404 V1378 a10 10 0 0 1 10 -10 H1127 a10 10 0 0 1 10 10 V1404 Z")
  .attr("fill", "#f1f5f9");
tableHead.forEach((h, i) => addText(svg, h, colX(i) + 10, 1392, 16.8, muted, "bold"));
tableRows.forEach((row, r) => {
  const top = 1404 + r * 34;
  if (r % 2 === 0) {
    svg.append("rect").attr("x", 64).attr("y", top).attr("width", 1073).attr("height", 34).attr("fill", "#fff");
  }
  row.forEach((cell, i) => addText(svg, cell, colX(i) + 10, top + 24, 18, dark));
});

// footer
addText(svg, "PaceTrack · pacetrack.ru", 64, 1591, 16, muted);
addText(svg, "Move. Track. Grow.", 64, 1611, 13.6, muted);
svg.append("line")
  .attr("x1", 118).attr("x2", 1076)
  .attr("y1", 1635).attr("y2", 1635)
  .attr("stroke", blue)
  .attr("stroke-width", 1.2)
  .attr("stroke-dasharray", "7 4");
</script>
</body>
</html>
